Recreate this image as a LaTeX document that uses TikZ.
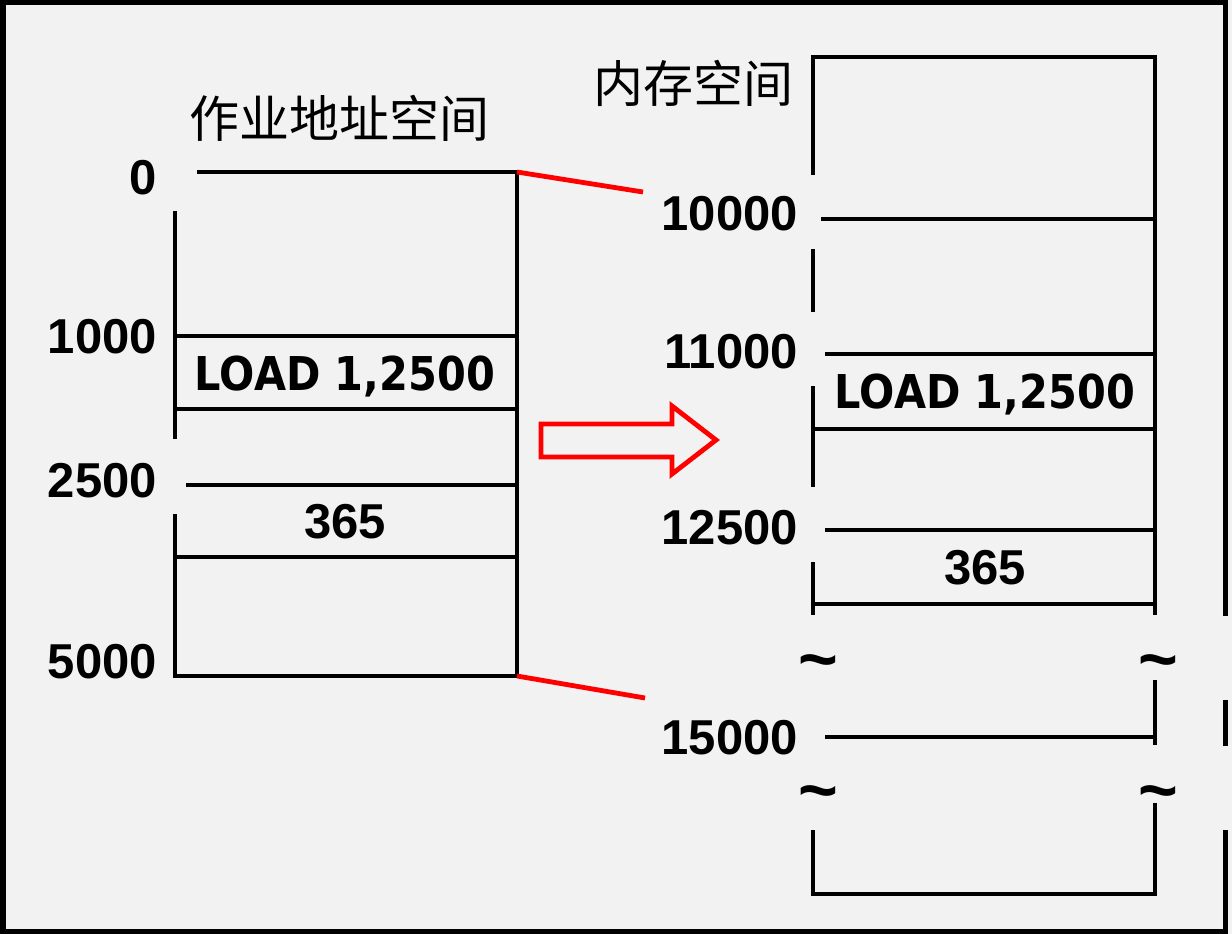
\documentclass[tikz,border=0pt]{standalone}
\usepackage{fontspec}
\setmainfont{Liberation Sans}
\newfontfamily\numfont{Liberation Sans}
\newfontfamily\loadfont{DejaVu Sans}[FakeStretch=0.89]
\newfontfamily\cjkfont{Noto Sans CJK SC}
\definecolor{bggray}{HTML}{F2F2F2}
\definecolor{redarrow}{HTML}{FF0000}
\tikzset{
  boxline/.style={line width=4.6pt, black},
  thinline/.style={line width=3.6pt, black},
  frameline/.style={line width=5.5pt, black},
  redline/.style={line width=4.8pt, redarrow},
  numlbl/.style={font={\numfont\bfseries\fontsize{49}{49}\selectfont}, inner sep=0pt, anchor=base east},
  cell/.style={font={\numfont\bfseries\fontsize{49}{49}\selectfont}, inner sep=0pt, anchor=base},
  loadlbl/.style={font={\loadfont\bfseries\fontsize{46.6}{46.6}\selectfont}, inner sep=0pt, anchor=base},
  title/.style={font={\cjkfont\fontsize{50}{50}\selectfont}, inner sep=0pt, anchor=center},
  tildelbl/.style={font={\numfont\bfseries\fontsize{68}{68}\selectfont}, inner sep=0pt, anchor=base},
}
\begin{document}
\begin{tikzpicture}[x=1pt,y=-1pt]
\useasboundingbox (0,0) rectangle (1232,934);
\fill[bggray] (0,0) rectangle (1232,934);
% outer frame (right side broken)
\draw[frameline] (1225.5,616) -- (1225.5,2.75) -- (2.75,2.75) -- (2.75,931.25) -- (1225.5,931.25) -- (1225.5,830);
\draw[frameline] (1225.5,700) -- (1225.5,746);

% ---- job address space ----
\node[title] (jobtitle) at (339,118) {作业地址空间};
\draw[boxline] (175,514) -- (175,676) -- (517,676) -- (517,172) -- (197,172);
\draw[boxline] (175,211) -- (175,439);
\draw[boxline] (175,336) -- (517,336);
\draw[boxline] (175,409) -- (517,409);
\draw[thinline] (186,485) -- (517,485);
\draw[boxline] (175,557) -- (517,557);
\node[numlbl] (j0) at (157,194) {0};
\node[numlbl] (j1000) at (157,353) {1000};
\node[numlbl] (j2500) at (157,497) {2500};
\node[numlbl] (j5000) at (157,678) {5000};
\node[loadlbl] (jload) at (345,390) {LOAD 1,2500};
\node[cell] (j365) at (345,538) {365};
\coordinate (jtop) at (517,172);
\coordinate (jbot) at (517,676);

% ---- memory space ----
\node[title] (memtitle) at (693,83) {内存空间};
\draw[boxline] (813,175) -- (813,57) -- (1155,57) -- (1155,615);
\draw[boxline] (813,249) -- (813,312);
\draw[boxline] (813,386) -- (813,487);
\draw[boxline] (813,562) -- (813,615);
\draw[thinline] (821,219) -- (1155,219);
\draw[boxline] (825,354) -- (1155,354);
\draw[boxline] (813,429) -- (1155,429);
\draw[thinline] (825,530) -- (1155,530);
\draw[boxline] (813,604) -- (1155,604);
\draw[boxline] (1155,680) -- (1155,745);
\draw[boxline] (825,737) -- (1155,737);
\draw[boxline] (813,830) -- (813,894) -- (1155,894) -- (1155,803);
\node[numlbl] (m10000) at (798,230) {10000};
\node[numlbl] (m11000) at (798,368) {11000};
\node[numlbl] (m12500) at (798,544) {12500};
\node[numlbl] (m15000) at (798,754) {15000};
\node[loadlbl] (mload) at (985,408) {LOAD 1,2500};
\node[cell] (m365) at (985,584) {365};
\node[tildelbl] (t1) at (818,682) {\char`\~};
\node[tildelbl] (t2) at (1158,682) {\char`\~};
\node[tildelbl] (t3) at (818,813) {\char`\~};
\node[tildelbl] (t4) at (1158,813) {\char`\~};
\coordinate (mtop) at (643,192);
\coordinate (mbot) at (645,698);

% ---- mapping lines ----
\draw[redline] (jtop) -- (mtop);
\draw[redline] (jbot) -- (mbot);

% ---- hollow arrow ----
\draw[redarrow, line width=4.8pt, line join=miter] (541,424) -- (672,424) -- (672,406) -- (716,440) -- (672,474) -- (672,457) -- (541,457) -- cycle;
\end{tikzpicture}
\end{document}
